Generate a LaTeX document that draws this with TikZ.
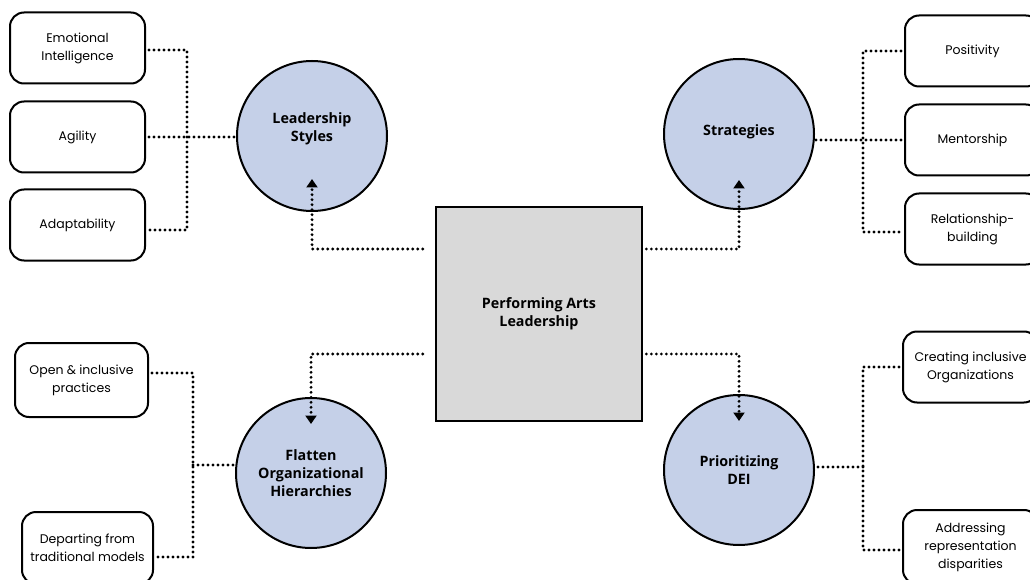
\documentclass[tikz,border=0pt]{standalone}
\usepackage{fontspec}
\setmainfont{Poppins}
\newfontfamily\hubfont{Open Sans}
\usetikzlibrary{arrows.meta}
\definecolor{circfill}{RGB}{197,208,232}
\definecolor{rectfill}{RGB}{217,217,217}
\begin{document}
\begin{tikzpicture}[x=1pt,y=-1pt,
 leaf/.style={draw,line width=2pt,rounded corners=14pt,minimum width=135pt,minimum height=71pt,align=center,font=\fontsize{12.5}{18}\selectfont,inner sep=0pt},
 hub/.style={circle,draw,line width=2pt,fill=circfill,minimum size=150pt,align=center,font=\hubfont\bfseries\fontsize{14.3}{18}\selectfont,inner sep=0pt},
 core/.style={draw,line width=2.6pt,fill=rectfill,minimum width=206pt,minimum height=214pt,align=center,font=\hubfont\bfseries\fontsize{14.3}{18}\selectfont,inner sep=0pt},
 dotline/.style={line width=3.1pt,dash pattern=on 0pt off 5pt,line cap=round},
 arr/.style={dotline,-{Triangle[width=11pt,length=8.5pt]}}]
\useasboundingbox (0,0) rectangle (1030,580);
\clip (0,0) rectangle (1030,580);

% central
\node[core] (pa) at (539,314) {Performing Arts\\Leadership};

% hubs
\node[hub] (ls) at (312,136) {Leadership\\Styles\\[0pt]};
\node[hub] (st) at (739,134) {Strategies\\[-10pt]};
\node[hub] (fo) at (311,473) {Flatten\\Organizational\\Hierarchies};
\node[hub] (dei) at (739,470) {Prioritizing\\DEI};

% left top leaves
\node[leaf] (ei) at (77.5,48) {Emotional\\Intelligence};
\node[leaf] (ag) at (77.5,137) {Agility};
\node[leaf] (ad) at (77.5,225) {Adaptability};

% right top leaves
\node[leaf] (pos) at (972.5,51) {Positivity};
\node[leaf] (men) at (972.5,140) {Mentorship};
\node[leaf] (rel) at (972.5,229) {Relationship-\\building};

% bottom left leaves
\node[leaf,minimum width=133pt,minimum height=74pt] (op) at (81.5,380) {Open \& inclusive\\practices};
\node[leaf,minimum width=131pt,minimum height=72pt] (dep) at (87.5,548) {Departing from\\traditional models};

% bottom right leaves
\node[leaf] (cr) at (970.5,367) {Creating inclusive\\Organizations};
\node[leaf,minimum height=74pt] (adr) at (970.5,547) {Addressing\\representation\\disparities};

% junctions
\coordinate (jl) at (187,137);
\coordinate (jr) at (863,140);
\coordinate (jbl) at (193,465);
\coordinate (jbr) at (863,467);

% core to hubs
\draw[arr] ([xshift=-12pt,yshift=65pt]pa.west) -| ([yshift=33pt]ls.south);
\draw[arr] ([xshift=3pt,yshift=65pt]pa.east) -| ([yshift=30pt]st.south);
\draw[arr] ([xshift=-12pt,yshift=-40pt]pa.west) -| ([yshift=-27pt]fo.north);
\draw[arr] ([xshift=3pt,yshift=-40pt]pa.east) -| ([yshift=-27pt]dei.north);

% left top group
\draw[dotline] ([xshift=3pt,yshift=-2pt]ei.east) -| (jl) |- ([xshift=3pt,yshift=-5pt]ad.east);
\draw[dotline] ([xshift=3pt]ag.east) -- (ag.east -| ls.west);

% right top group
\draw[dotline] ([xshift=-3pt]pos.west) -| (jr) |- ([xshift=-3pt,yshift=-3pt]rel.west);
\draw[dotline] ([xshift=-3pt]men.west) -- (men.west -| st.east);

% bottom left group
\draw[dotline] ([xshift=3pt,yshift=7pt]op.east) -| (jbl) |- ([xshift=3pt,yshift=-9pt]dep.east);
\draw[dotline] (jbl) -- (jbl -| fo.west);

% bottom right group
\draw[dotline] ([xshift=-3pt]cr.west) -| (jbr) |- ([xshift=-3pt,yshift=-3pt]adr.west);
\draw[dotline] (jbr) -- (jbr -| dei.east);
\end{tikzpicture}
\end{document}
